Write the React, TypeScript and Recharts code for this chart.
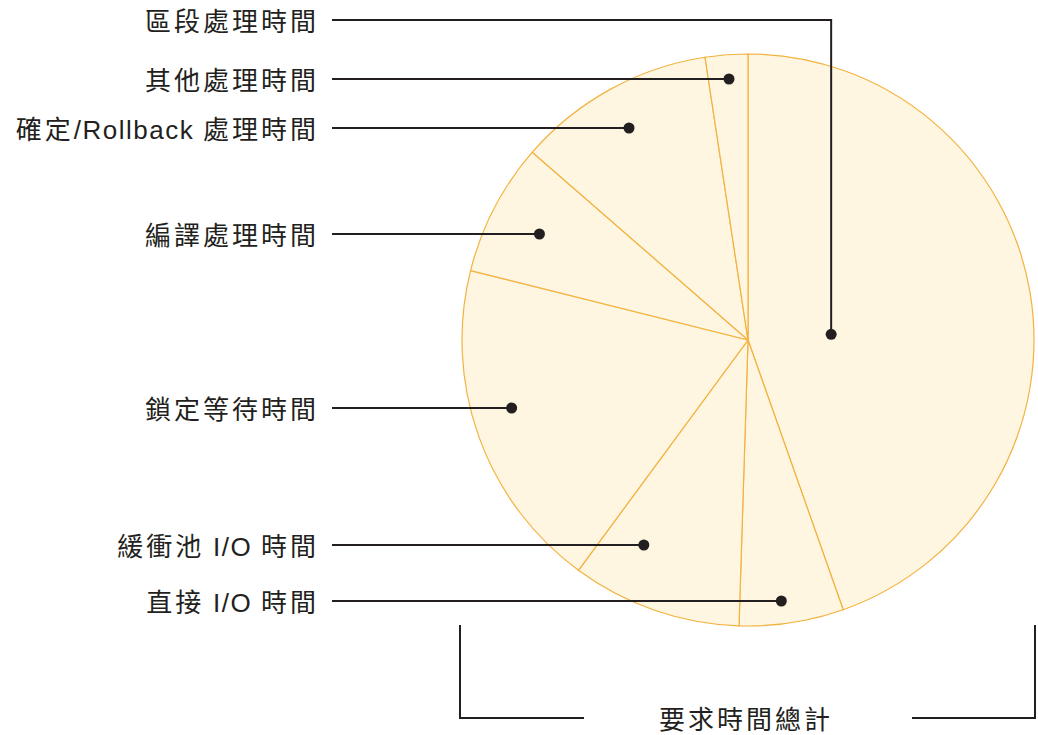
import { Pie, PieChart, Cell } from 'recharts';

const SEGMENTS = [
  '區段處理時間',
  '直接 I/O 時間',
  '緩衝池 I/O 時間',
  '鎖定等待時間',
  '編譯處理時間',
  '確定/Rollback 處理時間',
  '其他處理時間',
];
const SHARES = [446, 59, 96, 188, 75, 112, 24];
// label line heights and how far into the pie each dot sits (share of radius)
const LABEL_Y = [20, 601, 545, 408, 234, 128, 79];
const DOT_R = [0.295, 0.92, 0.804, 0.86, 0.818, 0.85, 0.915];
const TOTAL_LABEL = '要求時間總計';

const data = SEGMENTS.map((name, i) => ({ name, value: SHARES[i] }));

const RAD = Math.PI / 180;
const INK = '#231f20';
const FONT = '"Liberation Sans", "Noto Sans CJK TC", sans-serif';
const LINE_START = 332;

// CJK runs get a little extra tracking, latin runs stay tight
function splitRuns(text: string) {
  return text.match(/[\u3000-\u9fff]+|[^\u3000-\u9fff]+/g) || [];
}

function LabelText({ x, y, text, anchor }: { x: number; y: number; text: string; anchor: string }) {
  return (
    <text
      x={x}
      y={y + 1.5}
      textAnchor={anchor}
      dominantBaseline="central"
      fontSize={26}
      fill={INK}
      fontFamily={FONT}
    >
      {splitRuns(text).map((run, i) => (
        <tspan key={i} letterSpacing={/[\u3000-\u9fff]/.test(run) ? 3 : 1.5}>
          {run}
        </tspan>
      ))}
    </text>
  );
}

function renderLabel(props: any) {
  const { cx, cy, midAngle, outerRadius, index } = props;
  const labelY = LABEL_Y[index];
  const r = outerRadius * DOT_R[index];
  let dotX: number;
  let dotY: number;
  let path: string;
  if (index === 0) {
    dotX = cx + r * Math.cos(-midAngle * RAD);
    dotY = cy - outerRadius * 0.02;
    path = `M${LINE_START},${labelY} H${dotX} V${dotY}`;
  } else {
    const dy = labelY - cy;
    const side = Math.cos(-midAngle * RAD) < 0 ? -1 : 1;
    dotX = cx + side * Math.sqrt(Math.max(r * r - dy * dy, 0));
    dotY = labelY;
    path = `M${LINE_START},${labelY} H${dotX}`;
  }
  return (
    <g key={`label-${index}`}>
      <path d={path} stroke={INK} strokeWidth={2} fill="none" />
      <circle cx={dotX} cy={dotY} r={5.5} fill={INK} />
      <LabelText x={319} y={labelY} text={SEGMENTS[index]} anchor="end" />
    </g>
  );
}

export default function App() {
  return (
    <div style={{ position: 'absolute', left: 0, top: 0, width: 1038, height: 735, background: '#fff' }}>
      <PieChart width={1038} height={735} margin={{ top: 0, right: 0, bottom: 0, left: 0 }}>
        <Pie
          data={data}
          dataKey="value"
          nameKey="name"
          cx={748}
          cy={340}
          outerRadius={286}
          startAngle={90}
          endAngle={-270}
          stroke="#f3b23f"
          strokeWidth={1.2}
          label={renderLabel}
          labelLine={false}
          isAnimationActive={false}
        >
          {data.map((d) => (
            <Cell key={d.name} fill="#fef6e1" />
          ))}
        </Pie>
      </PieChart>
      <svg
        width={1038}
        height={735}
        style={{ position: 'absolute', left: 0, top: 0, pointerEvents: 'none' }}
      >
        <path d="M460,625 V718 H584" stroke={INK} strokeWidth={2} fill="none" />
        <path d="M912,718 H1035 V625" stroke={INK} strokeWidth={2} fill="none" />
        <LabelText x={746} y={718} text={TOTAL_LABEL} anchor="middle" />
      </svg>
    </div>
  );
}
